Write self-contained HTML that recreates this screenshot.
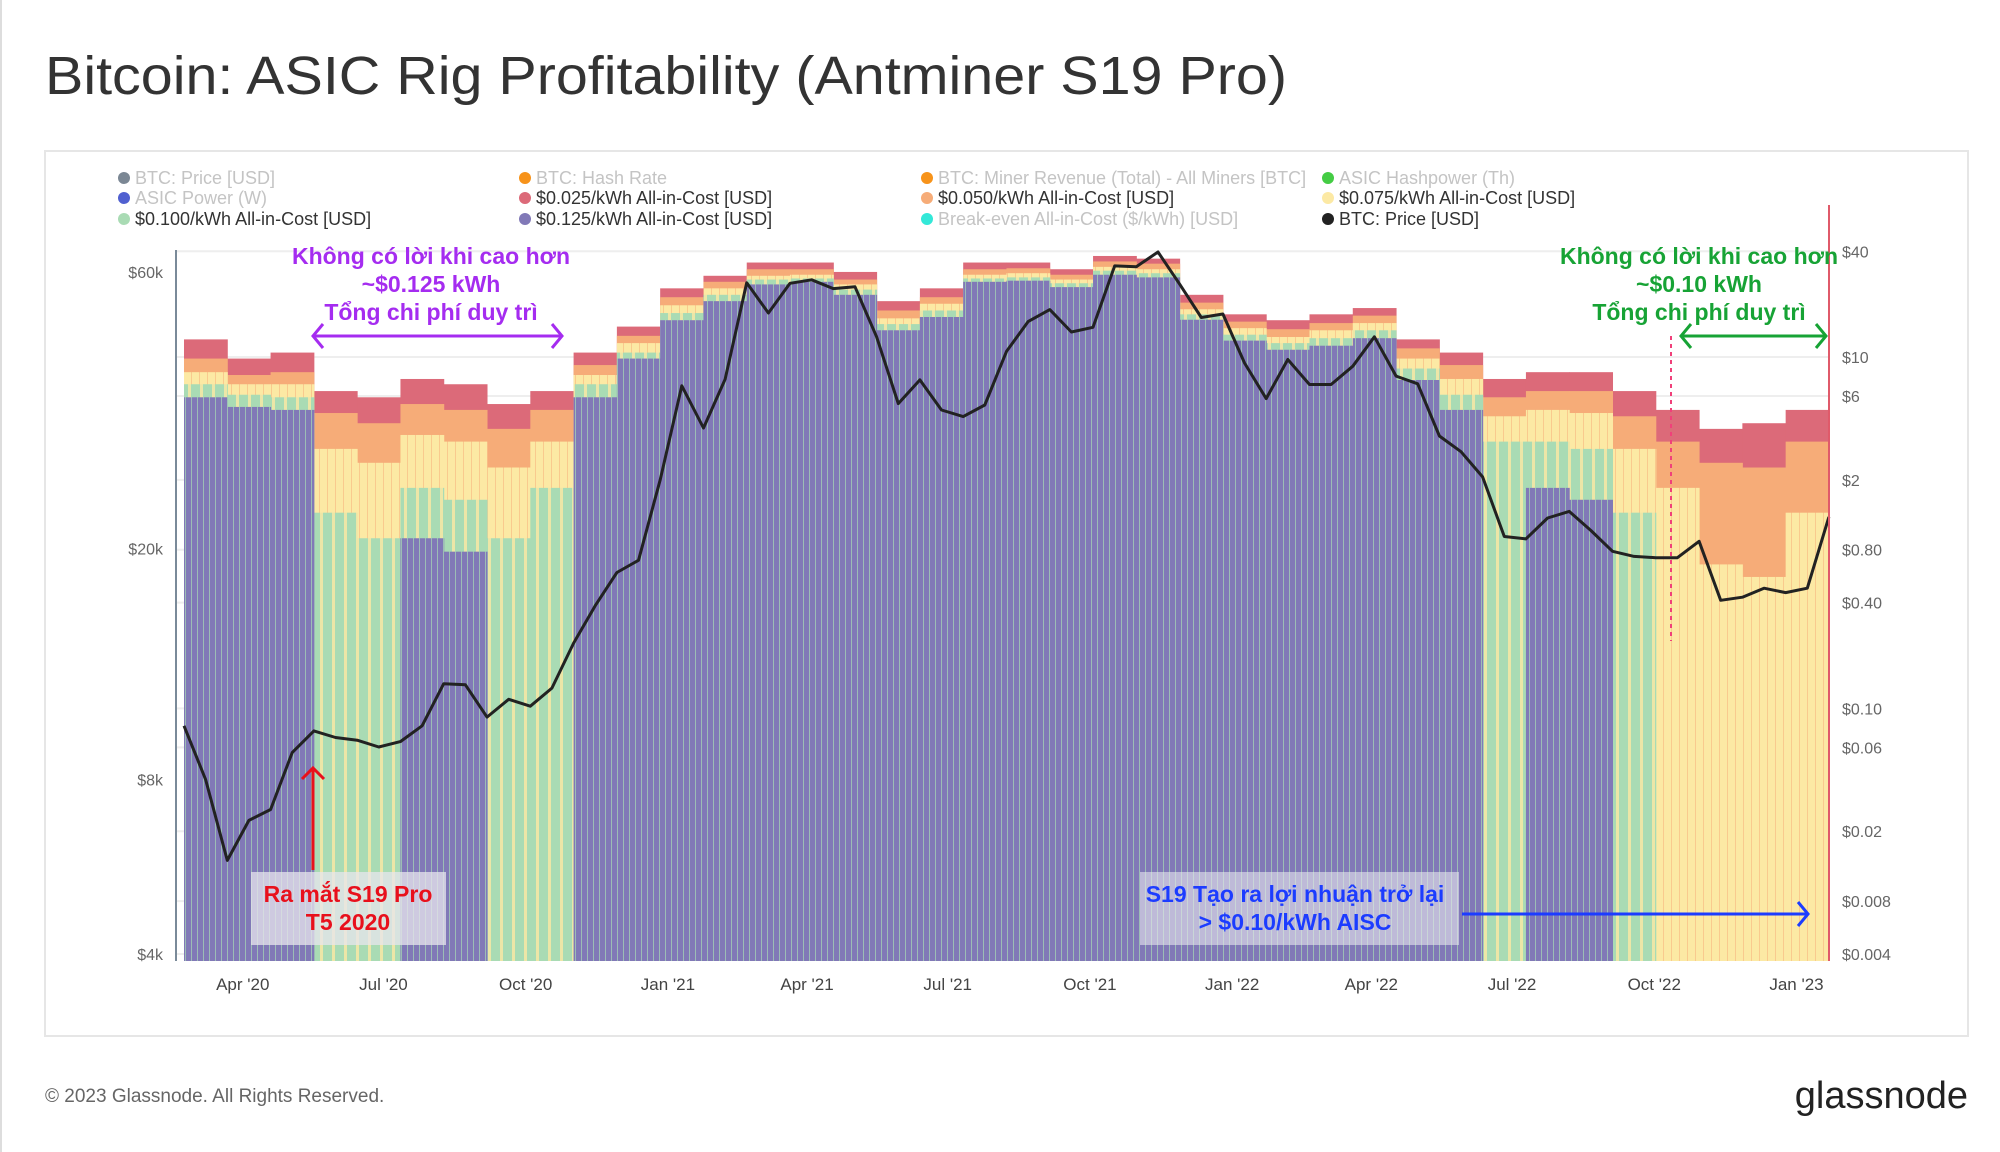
<!DOCTYPE html>
<html><head><meta charset="utf-8">
<style>
html,body{margin:0;padding:0;background:#fff;}
svg{display:block;font-family:"Liberation Sans",sans-serif;}
</style></head>
<body>
<svg id="c" width="2000" height="1152" viewBox="0 0 2000 1152" xmlns="http://www.w3.org/2000/svg">
<defs>
<pattern id="pstripe" width="6" height="10" patternUnits="userSpaceOnUse">
<rect width="6" height="10" fill="#8179b7"/><rect x="5" width="1" height="10" fill="#a9dbb4" opacity="0.7"/>
</pattern>
<pattern id="gstripe" width="12" height="10" patternUnits="userSpaceOnUse">
<rect width="12" height="10" fill="#a9dbb4"/><rect x="8" width="3" height="10" fill="#fce9a4" opacity="0.8"/>
</pattern>
<pattern id="ystripe" width="8" height="10" patternUnits="userSpaceOnUse">
<rect width="8" height="10" fill="#fce9a4"/><rect x="7" width="1" height="10" fill="#f6ac78" opacity="0.5"/>
</pattern>
</defs>
<rect x="0" y="0" width="2000" height="1152" fill="#fff"/>
<line x1="1" y1="0" x2="1" y2="1152" stroke="#ddd" stroke-width="2"/>
<text x="45" y="94" font-size="54" fill="#333" textLength="1242" lengthAdjust="spacingAndGlyphs">Bitcoin: ASIC Rig Profitability (Antminer S19 Pro)</text>
<rect x="45" y="151" width="1923" height="885" fill="none" stroke="#e6e6e6" stroke-width="2"/>
<g id="grid"></g>
<g id="bars"></g>
<g id="axes"></g>
<g id="legend"></g>
<g id="annot"></g>
<text x="45" y="1102" font-size="19" fill="#666">© 2023 Glassnode. All Rights Reserved.</text>
<text x="1968" y="1108" font-size="38" fill="#222" text-anchor="end">glassnode</text>
</svg>
<script>
// ---- data (28-day bands starting 2020-02-23) ----
const red025 = [12.6,9.8,10.6,6.4,5.9,7.5,7.0,5.4,6.4,10.6,14.9,24.6,29,34.5,34.5,30.5,20.8,24.6,34.5,34.5,31.6,37.6,36.3,22.6,17.5,16.2,17.5,19,12.6,10.6,7.5,8.2,8.2,6.4,5.0,3.9,4.2,5.0];
const orange050 = [9.8,7.9,8.2,4.8,4.2,5.4,5.0,3.9,5.0,9.0,13.2,21.9,26.8,31.6,31.6,27.6,18.4,21.9,31.6,32,29.4,35,34,20.4,15.9,14.4,15.6,17.2,11.2,9.0,5.9,6.4,6.4,4.6,3.3,2.5,2.35,3.3];
const yellow075 = [8.2,7.0,7.0,3.0,2.5,3.6,3.3,2.35,3.3,7.9,12,19.7,24.6,29,29.4,25.9,16.6,20.1,29.4,30,27.6,32.6,31.6,18.7,14.6,13,14.2,15.6,9.8,7.5,4.6,5.0,4.8,3.0,1.8,0.66,0.56,1.3];
const green100 = [7.0,6.1,5.9,1.3,0.93,1.8,1.54,0.93,1.8,7.0,10.6,17.8,22.6,27.6,28,24.2,15.4,18.4,28,28.4,26.3,31,30,17.5,13.4,12,12.8,14.2,8.6,6.1,3.3,3.3,3.0,1.3,0,0,0,0];
const purple125 = [5.9,5.2,5.0,0,0,0.93,0.78,0,0,5.9,9.8,16.2,20.8,25.9,26.8,22.6,14.2,16.9,26.8,27.2,25,29.4,28.4,16.3,12.4,11,11.6,12.8,7.4,5.0,0,1.8,1.54,0,0,0,0,0];
// BTC price every 14 days from 2020-02-23
const btcPrice = [9900,8000,5800,6800,7100,8900,9700,9450,9350,9100,9300,9900,11700,11650,10250,11000,10700,11500,13750,15950,18200,19100,26300,38200,32300,39200,57500,51000,57400,58200,56200,56600,46400,35600,39100,34700,33800,35400,43800,49300,51700,47300,48200,61500,61300,65000,57200,50100,50800,41800,36300,42400,38400,38400,41300,46400,39700,38500,31300,29400,26600,21000,20800,22600,23200,21500,19800,19400,19300,19300,20600,16300,16500,17100,16800,17100,22700];
const leftTicks = [60000,20000,8000,4000];
const leftLabels = ['$60k','$20k','$8k','$4k'];
const rightTicks = [40,10,6,2,0.8,0.4,0.1,0.06,0.02,0.008,0.004];
const rightLabels = ['$40','$10','$6','$2','$0.80','$0.40','$0.10','$0.06','$0.02','$0.008','$0.004'];
const xTickDays = [38,129,221,313,403,494,586,678,768,859,951,1043];
const xTickLabels = ["Apr '20","Jul '20","Oct '20","Jan '21","Apr '21","Jul '21","Oct '21","Jan '22","Apr '22","Jul '22","Oct '22","Jan '23"];

const NS='http://www.w3.org/2000/svg';
const BOTTOM=961, LEFT=176, RIGHT=1829;
function xDay(d){return 184 + d*1.546;}
function yR(v){return Math.min(BOTTOM, 954 - 76.3*Math.log(v/0.004));}
function yL(p){return 954 - 251.8*Math.log(p/4000);}
function mk(tag, attrs, parent){const e=document.createElementNS(NS,tag);for(const k in attrs)e.setAttribute(k,attrs[k]);parent.appendChild(e);return e;}

const grid=document.getElementById('grid');
rightTicks.forEach(function(v){
  const g=mk('line',{x1:LEFT,x2:RIGHT,y1:yR(v),y2:yR(v),stroke:'#eeeeee','stroke-width':2},grid);
  
  
});

const bars=document.getElementById('bars');
const layers=[[red025,'#dc6a79','band-0025'],[orange050,'#f6ac78','band-0050'],[yellow075,'url(#ystripe)','band-0075'],[green100,'url(#gstripe)','band-0100'],[purple125,'url(#pstripe)','band-0125']];
layers.forEach(function(L){
  const arr=L[0];
  arr.forEach(function(v,i){
    if(!(v>0))return;
    const x0=xDay(28*i), x1=xDay(28*i+28);
    const y=yR(v);
    const r=mk('rect',{x:x0,y:y,width:x1-x0+0.5,height:BOTTOM-y,fill:L[1]},bars);
    
    
  });
});
let d='';
btcPrice.forEach(function(p,i){d+=(i?'L':'M')+xDay(14*i).toFixed(1)+' '+yL(p).toFixed(1);});
const pl=mk('path',{d:d,fill:'none',stroke:'#222','stroke-width':3,'stroke-linejoin':'round'},bars);



const axes=document.getElementById('axes');
const la=mk('line',{x1:LEFT,x2:LEFT,y1:250,y2:BOTTOM,stroke:'#7a8a99','stroke-width':2},axes);


const ra=mk('line',{x1:RIGHT,x2:RIGHT,y1:205,y2:BOTTOM,stroke:'#e05a6a','stroke-width':2},axes);


leftTicks.forEach(function(v,i){
  const t=mk('text',{x:163,y:yL(v)+6,'font-size':16,fill:'#666','text-anchor':'end'},axes);
  t.textContent=leftLabels[i];
  
  
});
rightTicks.forEach(function(v,i){
  const t=mk('text',{x:1842,y:yR(v)+6,'font-size':16,fill:'#666'},axes);
  t.textContent=rightLabels[i];
  
  
});
xTickDays.forEach(function(dd,i){
  const t=mk('text',{x:xDay(dd),y:990,'font-size':17,fill:'#444','text-anchor':'middle'},axes);
  t.textContent=xTickLabels[i];
  
  
});

const legend=document.getElementById('legend');
const legItems=[
 [119,184,'#7b8794','BTC: Price [USD]',0],[520,184,'#f7931a','BTC: Hash Rate',0],[922,184,'#f7931a','BTC: Miner Revenue (Total) - All Miners [BTC]',0],[1323,184,'#44cc44','ASIC Hashpower (Th)',0],
 [119,204,'#5060d0','ASIC Power (W)',0],[520,204,'#dc6a79','$0.025/kWh All-in-Cost [USD]',1],[922,204,'#f6ac78','$0.050/kWh All-in-Cost [USD]',1],[1323,204,'#fce9a4','$0.075/kWh All-in-Cost [USD]',1],
 [119,225,'#a9dbb4','$0.100/kWh All-in-Cost [USD]',1],[520,225,'#8179b7','$0.125/kWh All-in-Cost [USD]',1],[922,225,'#33e8d8','Break-even All-in-Cost ($/kWh) [USD]',0],[1323,225,'#222','BTC: Price [USD]',1]];
legItems.forEach(function(it){
  const g=mk('g',{},legend);
  
  
  mk('circle',{cx:it[0]+5,cy:it[1]-6,r:6,fill:it[2]},g);
  const t=mk('text',{x:it[0]+16,y:it[1],'font-size':18,fill:it[4]?'#333':'#c4c4c4'},g);
  t.textContent=it[3];
});

const an=document.getElementById('annot');
function txt(x,y,s,col,size,name){const t=mk('text',{x:x,y:y,'font-size':size,'font-weight':'bold',fill:col,'text-anchor':'middle'},an);t.textContent=s;return t;}
txt(431,264,'Không có lời khi cao hơn','#a52cf0',23,'purple-note-line1');
txt(431,292,'~$0.125 kWh','#a52cf0',23,'purple-note-line2');
txt(431,320,'Tổng chi phí duy trì','#a52cf0',23,'purple-note-line3');
function arrowH(x1,x2,y,col,both,name){
  const g=mk('g',{stroke:col,'stroke-width':3,fill:'none'},an);
  
  
  mk('line',{x1:x1,x2:x2,y1:y,y2:y},g);
  mk('polyline',{points:(x2-10)+','+(y-12)+' '+x2+','+y+' '+(x2-10)+','+(y+12)},g);
  if(both)mk('polyline',{points:(x1+10)+','+(y-12)+' '+x1+','+y+' '+(x1+10)+','+(y+12)},g);
}
arrowH(313,562,336,'#a52cf0',true,'purple-range-arrow');
txt(1699,264,'Không có lời khi cao hơn','#17a335',23,'green-note-line1');
txt(1699,292,'~$0.10 kWh','#17a335',23,'green-note-line2');
txt(1699,320,'Tổng chi phí duy trì','#17a335',23,'green-note-line3');
arrowH(1681,1826,336,'#17a335',true,'green-range-arrow');
const dl=mk('line',{x1:1671,x2:1671,y1:336,y2:641,stroke:'#f0407a','stroke-width':2,'stroke-dasharray':'4,4'},an);


const b1=mk('rect',{x:251,y:872,width:195,height:73,fill:'#e8e6ee',opacity:0.75},an);


txt(348,902,'Ra mắt S19 Pro','#e8101c',23,'launch-note-line1');
txt(348,930,'T5 2020','#e8101c',23,'launch-note-line2');
const ua=mk('g',{stroke:'#e8101c','stroke-width':3,fill:'none'},an);


mk('line',{x1:313,x2:313,y1:870,y2:768},ua);
mk('polyline',{points:'302,779 313,768 324,779'},ua);
const b2=mk('rect',{x:1140,y:872,width:319,height:73,fill:'#e8e6ee',opacity:0.6},an);


txt(1295,902,'S19 Tạo ra lợi nhuận trở lại','#1c3cff',23,'profit-note-line1');
txt(1295,930,'> $0.10/kWh AISC','#1c3cff',23,'profit-note-line2');
arrowH(1462,1808,914,'#1c3cff',false,'profit-arrow');
</script>
</body></html>
